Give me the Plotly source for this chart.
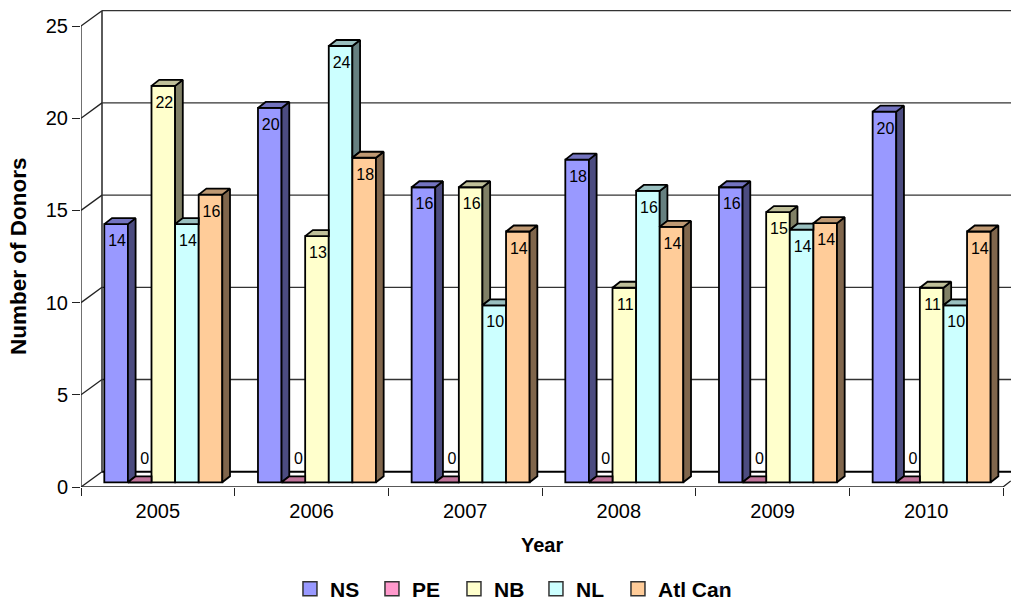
import plotly.graph_objects as go

years = ["2005", "2006", "2007", "2008", "2009", "2010"]
series = ["NS", "PE", "NB", "NL", "Atl Can"]
ns = [14.0, 20.3, 16.0, 17.5, 16.0, 20.1]
pe = [0, 0, 0, 0, 0, 0]
nb = [21.5, 13.35, 16.0, 10.55, 14.65, 10.55]
nl = [14.0, 23.66, 9.6, 15.8, 13.7, 9.6]
atl = [15.6, 17.6, 13.6, 13.85, 14.05, 13.6]
values = [ns, pe, nb, nl, atl]
front = [(153, 153, 255), (255, 153, 204), (255, 255, 204), (204, 255, 255), (255, 204, 153)]
yticks = [0, 5, 10, 15, 20, 25]

FONT = "Liberation Sans"
PX_X, PX_Y = 153.67, 18.44        # pixels per unit
XMAX, YMAX = 930 / PX_X, 480 / PX_Y
WALL_X, WALL_Z = 21 / PX_X, 15.3 / PX_Y
SIDE_X, SIDE_Z = 7.7 / PX_X, 6 / PX_Y
BASE = 4.7 / PX_Y
LEFT, W = 23.3 / PX_X, 23.6 / PX_X
EDGE = 1.8


def rgb(c, k=1.0):
    return "rgb(%d,%d,%d)" % tuple(round(v * k) for v in c)


fig = go.Figure()

# front faces, as real bars
for s, name in enumerate(series):
    fig.add_trace(go.Bar(
        x=[i + LEFT + W * (s + .5) for i in range(len(years))], y=values[s], base=BASE, width=W,
        name=name, showlegend=False,
        marker=dict(color=rgb(front[s]), line=dict(color="black", width=EDGE)),
    ))

# legend keys
for s, name in enumerate(series):
    fig.add_trace(go.Scatter(
        x=[None], y=[None], name=name, mode="markers",
        marker=dict(symbol="square", size=14, color=rgb(front[s]), line=dict(color="#333333", width=1.5))))
fig.add_trace(go.Scatter(x=[None], y=[None], name=" ", mode="markers", marker=dict(opacity=0)))

# side and top faces, computed from the same values
for s in range(len(series)):
    for i, v in enumerate(values[s]):
        nxt = values[s + 1][i] if s + 1 < len(series) else 0
        xl, xr = i + LEFT + W * s, i + LEFT + W * (s + 1)
        t = BASE + v
        if nxt < v:
            b = BASE + nxt
            fig.add_trace(go.Scatter(
                x=[xr, xr + SIDE_X, xr + SIDE_X, xr, xr], y=[b, b + SIDE_Z, t + SIDE_Z, t, b],
                mode="lines", fill="toself", fillcolor=rgb(front[s], .5),
                line=dict(color="black", width=EDGE), showlegend=False, hoverinfo="skip"))
            rx = xr + SIDE_X
        else:
            rx = xr
        fig.add_trace(go.Scatter(
            x=[xl, xl + SIDE_X, rx, xr, xl], y=[t, t + SIDE_Z, t + SIDE_Z, t, t],
            mode="lines", fill="toself", fillcolor=rgb(front[s], .75),
            line=dict(color="black", width=EDGE), showlegend=False, hoverinfo="skip"))

# data labels
lx, ly, lt = [], [], []
for s in range(len(series)):
    for i, v in enumerate(values[s]):
        cx = i + LEFT + W * (s + .5)
        if v == 0:
            lx.append(cx + 5 / PX_X)
            ly.append(BASE + 22 / PX_Y)
        else:
            lx.append(cx + 1 / PX_X)
            ly.append(BASE + v - 18 / PX_Y)
        lt.append(str(round(v)))
fig.add_trace(go.Scatter(x=lx, y=ly, text=lt, mode="text", textposition="middle center",
                         textfont=dict(family=FONT, size=16, color="black"),
                         showlegend=False, hoverinfo="skip"))

# box frame in front of the walls
fx, fy = [0, 0, None, 0, 6, 6 + SIDE_X], [0, yticks[-1], None, 0, 0, SIDE_Z]
for v in yticks:
    fx += [None, 0, WALL_X]
    fy += [None, v, v + WALL_Z]
fig.add_trace(go.Scatter(x=fx, y=fy, mode="lines", line=dict(color="#222222", width=1.3),
                         cliponaxis=False, showlegend=False, hoverinfo="skip"))

shapes = [dict(type="line", xref="x", yref="y", layer="below", x0=WALL_X, x1=XMAX,
               y0=v + WALL_Z, y1=v + WALL_Z,
               line=dict(color="#000000" if v == 0 else "#333333", width=2 if v == 0 else 1.3))
          for v in yticks]
shapes.append(dict(type="line", xref="x", yref="y", layer="below", x0=WALL_X, x1=WALL_X,
                   y0=WALL_Z, y1=25 + WALL_Z, line=dict(color="#333333", width=1.6)))

fig.update_layout(
    width=1011, height=603, autosize=False,
    margin=dict(l=81, r=0, t=7, b=116),
    paper_bgcolor="white", plot_bgcolor="white",
    barmode="overlay", shapes=shapes,
    font=dict(family=FONT, color="black"),
    xaxis=dict(range=[0, XMAX], tickvals=[i + .5 for i in range(len(years))], ticktext=years,
               ticks="outside", ticklen=6, tickcolor="rgba(0,0,0,0)",
               tickfont=dict(size=20), showgrid=False, zeroline=False, showline=False,
               automargin=False,
               minor=dict(tickvals=list(range(len(years) + 1)), ticks="outside", ticklen=8,
                          tickcolor="#222222", tickwidth=1, showgrid=False)),
    yaxis=dict(range=[0, YMAX], tickvals=yticks, ticks="outside", ticklen=8, tickcolor="#222222",
               tickwidth=1, tickfont=dict(size=20), showgrid=False, zeroline=False, showline=False,
               automargin=False),
    annotations=[
        dict(text="Year", xref="paper", yref="paper", x=(542 - 81) / 930, y=(487 - 545) / 480,
             xanchor="center", yanchor="middle", showarrow=False, font=dict(size=20, weight="bold")),
        dict(text="Number of Donors", xref="paper", yref="paper", x=(18 - 81) / 930, y=(487 - 256) / 480,
             xanchor="center", yanchor="middle", textangle=-90, showarrow=False,
             font=dict(size=22.5, weight="bold")),
    ],
    legend=dict(orientation="h", xref="paper", yref="container", x=.2247, y=(603 - 589) / 603,
                xanchor="left", yanchor="middle",
                entrywidth=37, entrywidthmode="pixels", font=dict(size=21, weight="bold"),
                traceorder="normal", itemclick=False, itemdoubleclick=False),
)
fig.write_html("out.html", config={"displayModeBar": False},
               post_script="document.body.style.margin='0';document.body.style.overflow='hidden';window.dispatchEvent(new Event('resize'));")
